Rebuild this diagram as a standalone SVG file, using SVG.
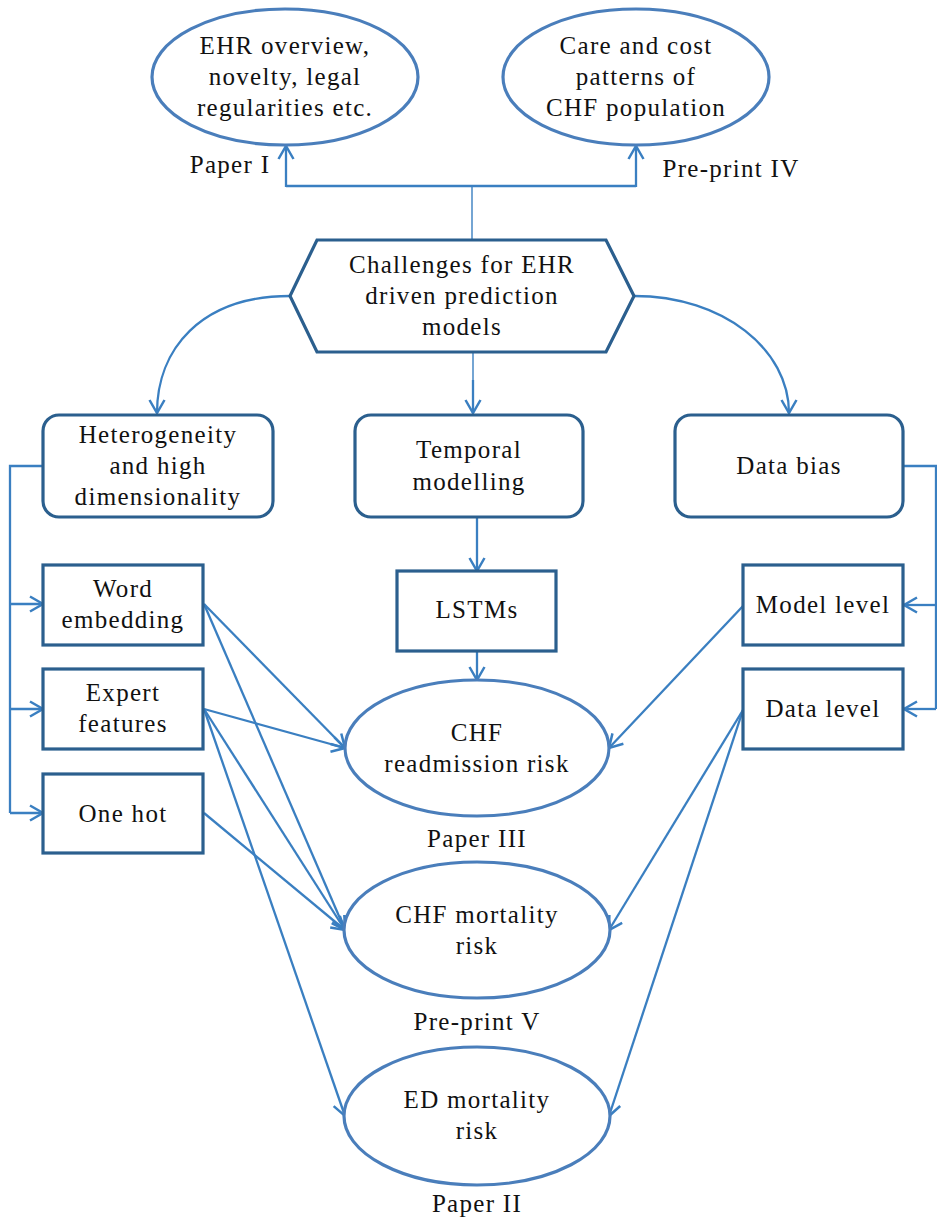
<svg xmlns="http://www.w3.org/2000/svg" width="937" height="1219" viewBox="0 0 937 1219" font-family="'Liberation Serif', 'DejaVu Serif', serif">
  <defs>
    <marker id="arrow" markerUnits="userSpaceOnUse" markerWidth="16" markerHeight="18" refX="13" refY="7.5" orient="auto" overflow="visible">
      <path d="M0,0 L13,7.5 L0,15" fill="none" stroke="#3a7fc1" stroke-width="2.5" stroke-linejoin="miter"/>
    </marker>
  </defs>
  <style>
    text { font-size: 25px; letter-spacing: 1.3px; fill: #111; text-anchor: middle; }
    .oval { fill: #fff; stroke: #4a7ebb; stroke-width: 3.2; }
    .box { fill: #fff; stroke: #2b5f8e; stroke-width: 3.2; }
    .link { fill: none; stroke: #3a7fc1; stroke-width: 2.3; }
    .thin { fill: none; stroke: #3a7fc1; stroke-width: 1.4; }
    .arr { marker-end: url(#arrow); }
  </style>
  <rect width="937" height="1219" fill="#fff"/>

  <!-- connectors -->
  <g id="connectors">
    <path class="thin" d="M472,240 L472,186"/>
    <path class="link" d="M286,186 L636,186"/>
    <path class="link arr" d="M286,187 L286,146"/>
    <path class="link arr" d="M636,187 L636,146"/>
    <path class="link arr" d="M290,296 C200,296 157,350 157,413"/>
    <path class="link arr" d="M634,296 C724,296 789,350 789,413"/>
    <path class="thin" d="M473,352 L473,380"/>
    <path class="link arr" d="M473,380 L473,413"/>
    <!-- heterogeneity branches -->
    <path class="link" d="M43,466 L10,466 L10,813"/>
    <path class="link arr" d="M10,604 L43,604"/>
    <path class="link arr" d="M10,709 L43,709"/>
    <path class="link arr" d="M10,813 L43,813"/>
    <!-- data bias branches -->
    <path class="link" d="M903,466 L936,466 L936,709"/>
    <path class="link arr" d="M936,605 L904,605"/>
    <path class="link arr" d="M936,709 L904,709"/>
    <!-- temporal chain -->
    <path class="link arr" d="M477,517 L477,571"/>
    <path class="link arr" d="M477,651 L477,680"/>
    <!-- feature inputs -->
    <path class="link arr" d="M204,604 L345,748"/>
    <path class="link arr" d="M204,604 L345,930"/>
    <path class="link arr" d="M204,709 L345,748"/>
    <path class="link arr" d="M204,709 L345,930"/>
    <path class="link arr" d="M204,709 L345,1116"/>
    <path class="link arr" d="M204,813 L345,930"/>
    <!-- bias inputs -->
    <path class="link arr" d="M743,606 L609,748"/>
    <path class="link arr" d="M743,710 L609,930"/>
    <path class="link arr" d="M743,710 L609,1116"/>
  </g>

  <g id="ehr-overview">
    <ellipse class="oval" cx="285" cy="77" rx="133" ry="68"/>
    <text x="285" y="54">EHR overview,</text>
    <text x="285" y="85">novelty, legal</text>
    <text x="285" y="116">regularities etc.</text>
    <text x="230" y="173">Paper I</text>
  </g>

  <g id="care-cost">
    <ellipse class="oval" cx="636" cy="77" rx="133" ry="68"/>
    <text x="636" y="54">Care and cost</text>
    <text x="636" y="85">patterns of</text>
    <text x="636" y="116">CHF population</text>
    <text x="731" y="177">Pre-print IV</text>
  </g>

  <g id="challenges">
    <polygon class="box" points="317,240 606,240 634,296 606,352 317,352 290,296"/>
    <text x="462" y="273">Challenges for EHR</text>
    <text x="462" y="304">driven prediction</text>
    <text x="462" y="335">models</text>
  </g>

  <g id="heterogeneity">
    <rect class="box" x="43" y="415" width="230" height="102" rx="16"/>
    <text x="158" y="443">Heterogeneity</text>
    <text x="158" y="474">and high</text>
    <text x="158" y="505">dimensionality</text>
  </g>

  <g id="temporal">
    <rect class="box" x="355" y="415" width="228" height="102" rx="16"/>
    <text x="469" y="458">Temporal</text>
    <text x="469" y="490">modelling</text>
  </g>

  <g id="data-bias">
    <rect class="box" x="675" y="415" width="228" height="102" rx="16"/>
    <text x="789" y="474">Data bias</text>
  </g>

  <g id="word-embedding">
    <rect class="box" x="43" y="565" width="160" height="80"/>
    <text x="123" y="597">Word</text>
    <text x="123" y="628">embedding</text>
  </g>

  <g id="expert-features">
    <rect class="box" x="43" y="669" width="160" height="80"/>
    <text x="123" y="701">Expert</text>
    <text x="123" y="732">features</text>
  </g>

  <g id="one-hot">
    <rect class="box" x="43" y="774" width="160" height="79"/>
    <text x="123" y="822">One hot</text>
  </g>

  <g id="lstms">
    <rect class="box" x="397" y="571" width="159" height="80"/>
    <text x="477" y="618">LSTMs</text>
  </g>

  <g id="model-level">
    <rect class="box" x="743" y="565" width="160" height="80"/>
    <text x="823" y="613">Model level</text>
  </g>

  <g id="data-level">
    <rect class="box" x="743" y="669" width="160" height="80"/>
    <text x="823" y="717">Data level</text>
  </g>

  <g id="chf-readmission">
    <ellipse class="oval" cx="477" cy="748" rx="132" ry="68"/>
    <text x="477" y="741">CHF</text>
    <text x="477" y="772">readmission risk</text>
    <text x="477" y="847">Paper III</text>
  </g>

  <g id="chf-mortality">
    <ellipse class="oval" cx="477" cy="930" rx="133" ry="68"/>
    <text x="477" y="923">CHF mortality</text>
    <text x="477" y="954">risk</text>
    <text x="477" y="1030">Pre-print V</text>
  </g>

  <g id="ed-mortality">
    <ellipse class="oval" cx="477" cy="1116" rx="133" ry="69"/>
    <text x="477" y="1108">ED mortality</text>
    <text x="477" y="1139">risk</text>
    <text x="477" y="1212">Paper II</text>
  </g>
</svg>
